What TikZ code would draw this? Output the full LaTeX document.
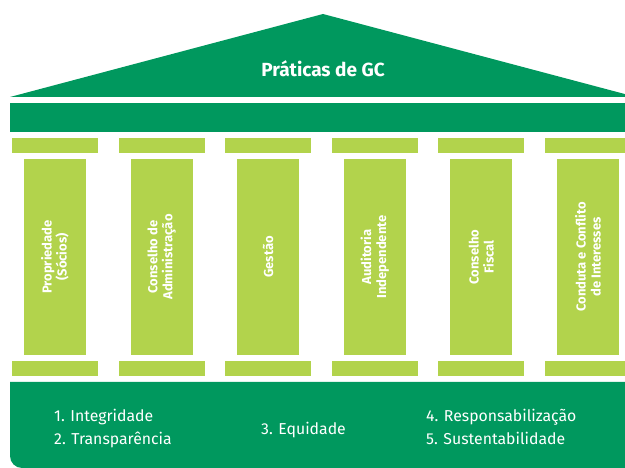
\documentclass[tikz,border=0pt]{standalone}
\usepackage{fontspec}
\setmainfont{Fira Sans}
\usetikzlibrary{positioning}
\definecolor{gcdark}{RGB}{0,152,94}
\definecolor{gclight}{RGB}{178,211,76}

\begin{document}
\begin{tikzpicture}[x=1pt,y=-1pt,
    capital/.style={fill=gclight,inner sep=0pt,minimum width=86pt,minimum height=15pt},
    shaft/.style={fill=gclight,inner sep=0pt,rotate=90,minimum width=196pt,minimum height=62pt,
      text=white,align=center,font=\fontsize{13}{15}\selectfont\bfseries},
    value/.style={text=white,inner sep=0pt,anchor=base west,font=\fontsize{15.8}{18}\selectfont}]
  \useasboundingbox (0,0) rectangle (625,468);
  \clip (0,0) rectangle (625,468);
  % roof and beam
  \fill[gcdark] (10,97) -- (323,14) -- (636,97) -- cycle;
  \node[text=white,font=\fontsize{19}{19}\selectfont\bfseries] (title) at (323,69) {Práticas de GC};
  \fill[gcdark] (10,103) rectangle (640,132);
  % pillars
  \foreach \i/\txt in {1/{Propriedade\\(Sócios)},2/{Conselho de\\Administração},3/{Gestão},
      4/{Auditoria\\Independente},5/{Conselho\\Fiscal},6/{Conduta e Conflito\\de Interesses}}{
    \node[capital] (top\i) at ({55+106.6*(\i-1)},145.5) {};
    \node[shaft] (col\i) at ({55+106.6*(\i-1)},257) {\txt};
    \node[capital] (base\i) at ({55+106.6*(\i-1)},368.5) {};
  }
  % floor
  \fill[gcdark] (10,382) -- (10,456) arc[start angle=180,end angle=90,radius=12] -- (640,468) -- (640,382) -- cycle;
  \node[value] (v1) at (54,421) {1. Integridade};
  \node[value] (v2) at (54,445) {2. Transparência};
  \node[value] (v3) at (261,435) {3. Equidade};
  \node[value] (v4) at (426,421) {4. Responsabilização};
  \node[value] (v5) at (426,445) {5. Sustentabilidade};
\end{tikzpicture}
\end{document}
